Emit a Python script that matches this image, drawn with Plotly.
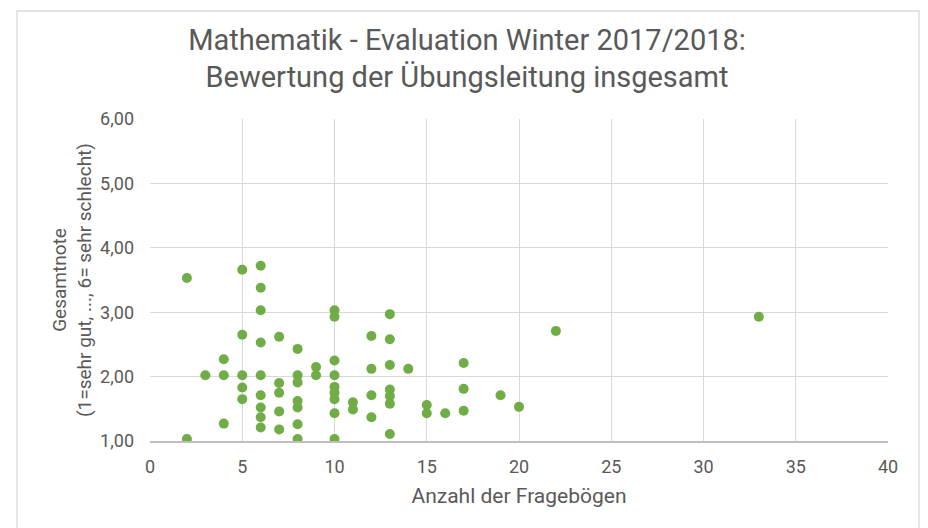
import plotly.graph_objects as go

# Data: (Anzahl der Fragebögen, Gesamtnote)
anzahl = [2, 2,
          3,
          4, 4, 4,
          5, 5, 5, 5, 5,
          6, 6, 6, 6, 6, 6, 6, 6, 6,
          7, 7, 7, 7, 7,
          8, 8, 8, 8, 8, 8, 8,
          9, 9,
          10, 10, 10, 10, 10, 10, 10, 10, 10,
          11, 11,
          12, 12, 12, 12,
          13, 13, 13, 13, 13, 13, 13,
          14,
          15, 15,
          16,
          17, 17, 17,
          19,
          20,
          22,
          33]
note = [3.53, 1.03,
        2.02,
        2.27, 2.02, 1.27,
        3.66, 2.65, 2.02, 1.83, 1.65,
        3.72, 3.38, 3.03, 2.53, 2.02, 1.71, 1.52, 1.37, 1.21,
        2.62, 1.90, 1.75, 1.46, 1.18,
        2.43, 2.02, 1.91, 1.62, 1.52, 1.26, 1.03,
        2.15, 2.02,
        3.03, 2.93, 2.25, 2.02, 1.84, 1.75, 1.65, 1.43, 1.03,
        1.60, 1.49,
        2.63, 2.12, 1.71, 1.37,
        2.97, 2.58, 2.18, 1.80, 1.70, 1.58, 1.11,
        2.12,
        1.56, 1.43,
        1.43,
        2.21, 1.81, 1.47,
        1.71,
        1.53,
        2.71,
        2.93]

x_ticks = [0, 5, 10, 15, 20, 25, 30, 35, 40]
y_ticks = [1, 2, 3, 4, 5, 6]

TXT = "#595959"
GRID = "#d9d9d9"
FONT = "Roboto"

W, H = 928, 528
L, R, T, B = 142, 48, 111, 95

fig = go.Figure()
fig.add_trace(go.Scatter(
    x=anzahl, y=note, mode="markers",
    marker=dict(color="#70AD47", size=10, line=dict(width=0)),
    showlegend=False, hoverinfo="x+y",
))

fig.update_layout(
    width=W, height=H,
    margin=dict(l=L, r=R, t=T, b=B),
    paper_bgcolor="white", plot_bgcolor="white",
    separators=",.",
    font=dict(family=FONT, color=TXT, size=18),
    title=dict(
        text="Mathematik - Evaluation Winter 2017/2018:<br>Bewertung der Übungsleitung insgesamt",
        x=459 / W, xref="container", xanchor="center",
        y=1 - 41.5 / H, yref="container", yanchor="middle",
        font=dict(family=FONT, size=29, color=TXT),
    ),
    xaxis=dict(
        range=[0, 40], tickvals=x_ticks, showgrid=True, gridcolor=GRID, gridwidth=1.3,
        zeroline=False, showline=True, linecolor="#bfbfbf", linewidth=1.5,
        ticks="", tickfont=dict(size=18, color=TXT), ticklabelstandoff=9,
        title=dict(text="Anzahl der Fragebögen", font=dict(size=21, color=TXT), standoff=12),
    ),
    yaxis=dict(
        range=[1, 6], tickvals=y_ticks, tickformat=".2f", showgrid=True, gridcolor=GRID,
        gridwidth=1.3, zeroline=False, showline=False, ticks="",
        tickfont=dict(size=18, color=TXT), ticklabelstandoff=15,
        title=dict(text="Gesamtnote<br>(1=sehr gut, ..., 6= sehr schlecht)",
                   font=dict(size=19, color=TXT), standoff=3),
    ),
)

fig.add_shape(type="rect", xref="paper", yref="paper",
              x0=(9 - L) / 738, x1=(911 - L) / 738,
              y0=(433 - 540) / 322, y1=(433 - 3) / 322,
              line=dict(color="#d9d9d9", width=1.3), fillcolor="rgba(0,0,0,0)",
              layer="below")

fig.write_html("out.html")
